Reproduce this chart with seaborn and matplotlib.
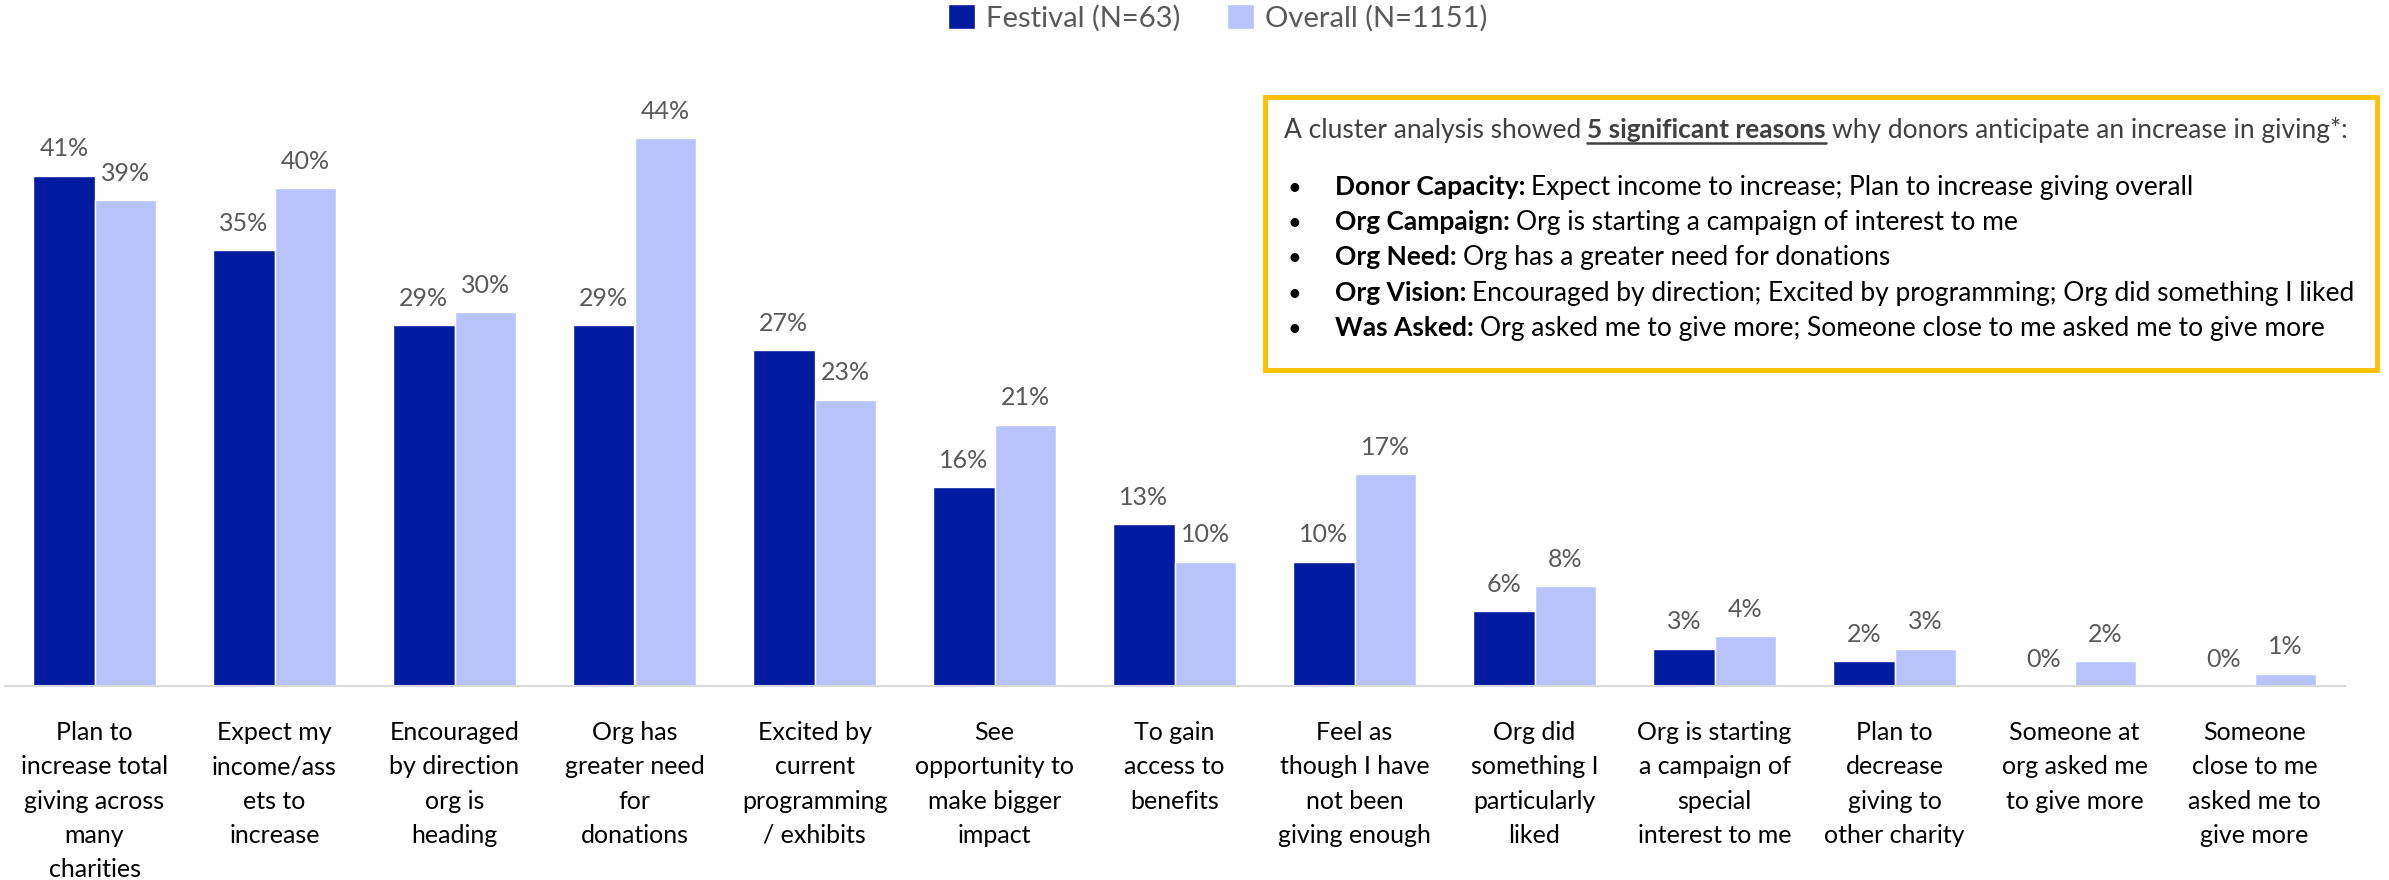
import matplotlib
matplotlib.use("Agg")
import matplotlib.pyplot as plt
import seaborn as sns
import pandas as pd
from matplotlib.patches import Rectangle
from matplotlib.lines import Line2D

# data
categories = [
    "Plan to\nincrease total\ngiving across\nmany\ncharities",
    "Expect my\nincome/ass\nets to\nincrease",
    "Encouraged\nby direction\norg is\nheading",
    "Org has\ngreater need\nfor\ndonations",
    "Excited by\ncurrent\nprogramming\n/ exhibits",
    "See\nopportunity to\nmake bigger\nimpact",
    "To gain\naccess to\nbenefits",
    "Feel as\nthough I have\nnot been\ngiving enough",
    "Org did\nsomething I\nparticularly\nliked",
    "Org is starting\na campaign of\nspecial\ninterest to me",
    "Plan to\ndecrease\ngiving to\nother charity",
    "Someone at\norg asked me\nto give more",
    "Someone\nclose to me\nasked me to\ngive more",
]
festival = [41, 35, 29, 29, 27, 16, 13, 10, 6, 3, 2, 0, 0]
overall = [39, 40, 30, 44, 23, 21, 10, 17, 8, 4, 3, 2, 1]
series = ["Festival (N=63)", "Overall (N=1151)"]
colors = ["#001BA0", "#B9C3FB"]

box_title = [("A cluster analysis showed", False, False),
             ("5 significant reasons", True, True),
             ("why donors anticipate an increase in giving*:", False, False)]
box_items = [
    ("Donor Capacity:", "Expect income to increase; Plan to increase giving overall"),
    ("Org Campaign:", "Org is starting a campaign of interest to me"),
    ("Org Need:", "Org has a greater need for donations"),
    ("Org Vision:", "Encouraged by direction; Excited by programming; Org did something I liked"),
    ("Was Asked:", "Org asked me to give more; Someone close to me asked me to give more"),
]

df = pd.DataFrame({
    "category": categories * 2,
    "pct": festival + overall,
    "group": [series[0]] * len(categories) + [series[1]] * len(categories),
})

sns.set_theme(style="white")
plt.rcParams["font.family"] = ["Lato", "DejaVu Sans"]

W, H = 2389, 880
fig = plt.figure(figsize=(W / 100, H / 100), dpi=100)
ax = fig.add_axes([4.5 / W, 1 - 686 / H, 2340 / W, 622.5 / H])

sns.barplot(data=df, x="category", y="pct", hue="group", palette=colors,
            width=0.68, saturation=1, ax=ax)
ax.set_xlim(-0.5, 12.5)
ax.set_ylim(0, 50)

for cont, vals in zip(ax.containers, [festival, overall]):
    ax.bar_label(cont, labels=[f"{v}%" for v in vals], padding=11,
                 fontsize=18, color="#595959")

ax.set_xticks(range(len(categories)))
ax.set_xticklabels(categories, fontsize=18, color="black", linespacing=1.6)
ax.tick_params(axis="x", length=0, pad=25)
ax.set_yticks([])
ax.set_xlabel("")
ax.set_ylabel("")
for s in ["left", "top", "right"]:
    ax.spines[s].set_visible(False)
ax.spines["bottom"].set_color("#D9D9D9")
ax.spines["bottom"].set_linewidth(1.5)

handles, labels = ax.get_legend_handles_labels()
ax.legend_.remove()
fig.legend(handles, labels, loc="center", bbox_to_anchor=(1218 / W, 1 - 18 / H),
           ncol=2, frameon=False, fontsize=21, handlelength=0.9, handleheight=0.9,
           columnspacing=1.6, handletextpad=0.4, labelcolor="#595959")

# callout box
fig.patches.append(Rectangle((1265 / W, 1 - 370 / H), (2377 - 1265) / W, (370 - 97) / H,
                             transform=fig.transFigure, facecolor="white",
                             edgecolor="#FFC000", linewidth=3.5, zorder=2))

renderer = fig.canvas.get_renderer()
SPACE = 6


def put_line(x, y, pieces, size, color):
    for txt, bold, under in pieces:
        t = fig.text(x / W, 1 - y / H, txt, fontsize=size,
                     fontweight="bold" if bold else "normal", color=color,
                     va="baseline", ha="left", zorder=3)
        bb = t.get_window_extent(renderer)
        if under:
            fig.add_artist(Line2D([bb.x0 / W, bb.x1 / W], [(H - y - 5) / H] * 2,
                                  color=color, linewidth=1.8, zorder=3))
        x = bb.x1 + SPACE


put_line(1284, 138, box_title, 19, "#404040")
for i, (head, rest) in enumerate(box_items):
    y = 195 + i * 35.2
    fig.text(1287 / W, 1 - y / H, "\u2022", fontsize=17, color="black",
             va="baseline", ha="left", zorder=3)
    put_line(1335, y, [(head, True, False), (rest, False, False)], 19, "black")

fig.savefig("out.png", dpi=100)
